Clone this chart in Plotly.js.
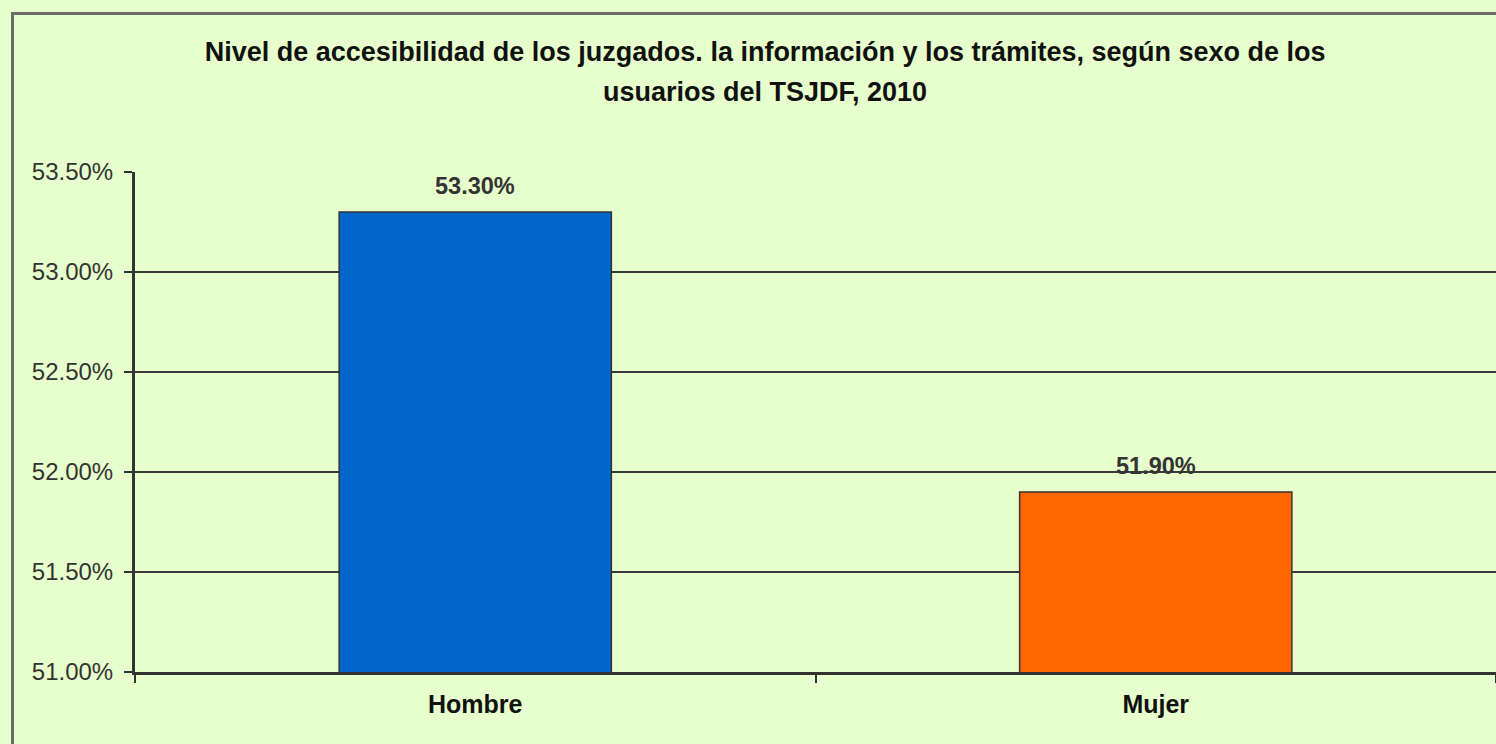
<!DOCTYPE html>
<html>
<head>
<meta charset="utf-8">
<script src="https://cdn.plot.ly/plotly-3.0.1.min.js"></script>
<style>
  html, body { margin: 0; padding: 0; background: #e6ffcc; }
  #chart { width: 1496px; height: 744px; }
</style>
</head>
<body>
<div id="chart"></div>
<script>
const categories = ["Hombre", "Mujer"];
const values = [53.30, 51.90];
const barColors = ["#0066cc", "#ff6600"];
const titleLine1 = "Nivel de accesibilidad de los juzgados. la información y los trámites, según sexo de los";
const titleLine2 = "usuarios del TSJDF, 2010";
const yTicks = [51.0, 51.5, 52.0, 52.5, 53.0, 53.5];

const trace = {
  type: "bar",
  x: categories,
  y: values,
  width: 0.4,
  marker: { color: barColors, line: { color: "#333333", width: 1.5 } },
  hoverinfo: "skip"
};

const annotations = categories.map((c, i) => ({
  x: c, y: values[i], xref: "x", yref: "y",
  text: values[i].toFixed(2) + "%",
  showarrow: false, yshift: 26,
  font: { family: "Liberation Sans, Arial, sans-serif", size: 23.5, color: "#333333", weight: "bold" }
}));
annotations.push({
  xref: "paper", yref: "paper", x: 0.463, y: (672 - 92) / 500,
  xanchor: "center", yanchor: "middle", showarrow: false,
  text: "<b>" + titleLine2 + "</b>",
  font: { family: "Liberation Sans, Arial, sans-serif", size: 27, color: "#111111" }
});

const layout = {
  width: 1496, height: 744,
  margin: { l: 135, r: 0, t: 172, b: 72 },
  paper_bgcolor: "#e6ffcc",
  plot_bgcolor: "#e6ffcc",
  showlegend: false,
  title: {
    text: "<b>" + titleLine1 + "</b>",
    x: 0.463, xref: "paper", xanchor: "center",
    y: 1 - 52 / 744, yref: "container", yanchor: "middle",
    font: { family: "Liberation Sans, Arial, sans-serif", size: 27, color: "#111111" }
  },
  xaxis: {
    type: "category",
    range: [-0.5, 1.5],
    showgrid: false,
    showline: true, linecolor: "#333333", linewidth: 3,
    ticks: "outside", tickson: "boundaries", ticklen: 8, tickcolor: "#333333", tickwidth: 2,
    ticklabelstandoff: 8,
    tickfont: { family: "Liberation Sans, Arial, sans-serif", size: 25, color: "#111111", weight: "bold" },
    zeroline: false
  },
  yaxis: {
    range: [51.0, 53.5],
    tickvals: yTicks,
    ticktext: yTicks.map(v => v.toFixed(2) + "%"),
    showgrid: true, gridcolor: "#3a3a3a", gridwidth: 2,
    showline: true, linecolor: "#333333", linewidth: 3,
    ticks: "outside", ticklen: 8, tickcolor: "#333333", tickwidth: 2,
    ticklabelstandoff: 6,
    tickfont: { family: "Liberation Sans, Arial, sans-serif", size: 24, color: "#333333" },
    zeroline: false
  },
  shapes: [{
    type: "rect", xref: "paper", yref: "paper",
    x0: (12.5 - 135) / 1361, x1: 1.05,
    y0: -0.3, y1: (672 - 13.5) / 500,
    line: { color: "#6a6a6a", width: 3 }, fillcolor: "rgba(0,0,0,0)", layer: "below"
  }],
  annotations: annotations
};

Plotly.newPlot("chart", [trace], layout, { displayModeBar: false, staticPlot: true });
</script>
</body>
</html>
